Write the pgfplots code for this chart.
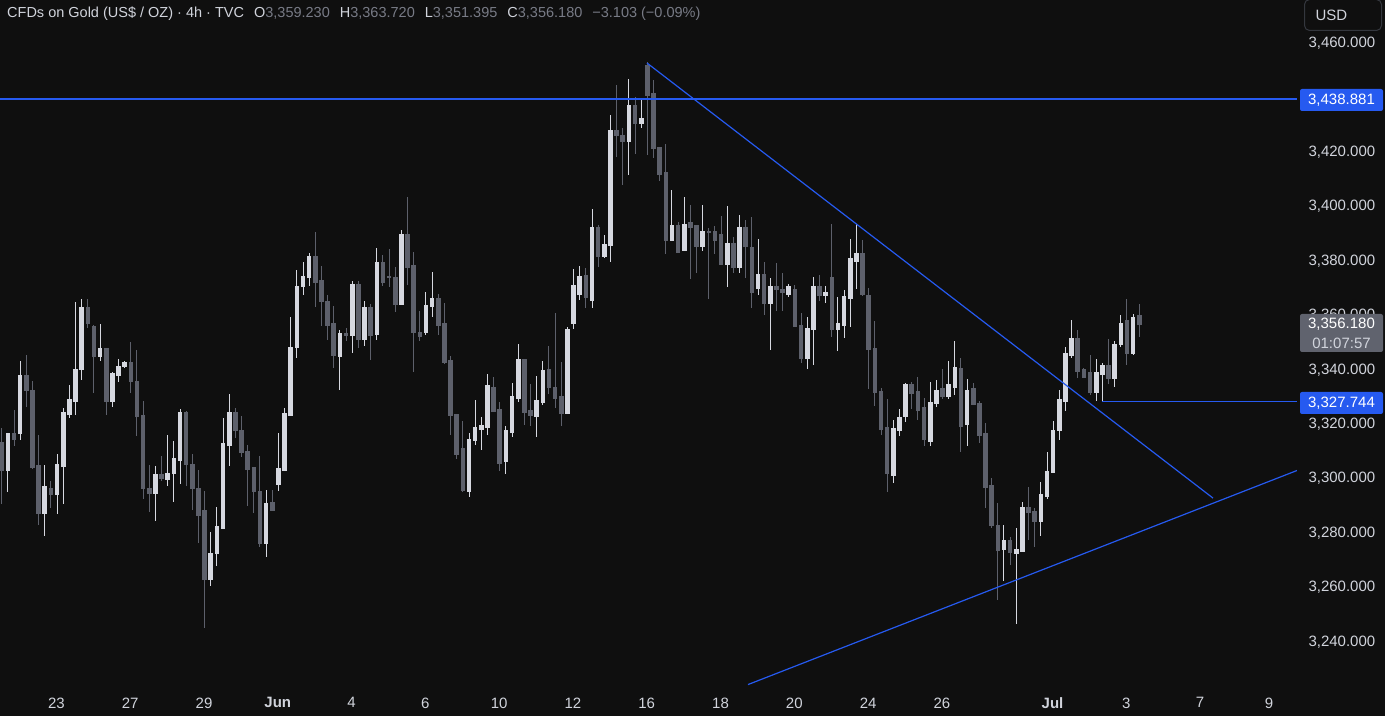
\documentclass[border=0pt]{standalone}
\usepackage{pgfplots}
\pgfplotsset{compat=1.18}
\usepackage{pgfplotstable}
\usepackage{fontspec}
\setmainfont{Liberation Sans}
\definecolor{bg}{RGB}{15,15,15}
\definecolor{upc}{RGB}{214,216,224}
\definecolor{dnc}{RGB}{93,96,107}
\definecolor{tlblue}{RGB}{38,90,240}
\definecolor{txt}{RGB}{209,212,220}
\definecolor{valc}{RGB}{120,123,134}
\definecolor{boxgray}{RGB}{96,99,110}
\definecolor{usdline}{RGB}{52,55,62}

\pgfplotstableread{
n o h l c
1 3302.6 3316.2 3294.7 3315.9
3 3315.9 3342.7 3313.7 3337.5
7 3286.5 3304.5 3278.4 3296.4
9 3293.8 3308.5 3286.5 3304.5
10 3304.1 3325.4 3290.1 3323.6
11 3323.2 3333.9 3321.7 3328.4
12 3328.0 3364.4 3322.8 3339.7
13 3339.4 3365.5 3335.7 3362.2
16 3344.2 3356.3 3342.7 3347.1
18 3328.0 3338.6 3325.8 3337.9
19 3337.5 3343.4 3334.9 3340.8
20 3340.5 3342.7 3340.1 3342.0
25 3294.2 3304.1 3283.9 3300.8
27 3299.3 3315.5 3296.8 3301.5
28 3301.2 3313.3 3290.9 3306.7
29 3306.3 3325.0 3297.5 3323.6
34 3262.6 3279.9 3260.0 3272.1
35 3271.8 3289.0 3267.4 3281.7
36 3281.3 3321.7 3281.3 3312.2
37 3311.8 3330.6 3304.1 3323.9
43 3275.8 3295.3 3270.7 3290.5
45 3297.5 3316.2 3294.9 3303.0
46 3302.6 3325.4 3302.6 3323.2
47 3322.8 3358.9 3322.8 3347.8
48 3347.5 3376.1 3343.8 3370.2
49 3369.9 3379.1 3366.9 3373.9
50 3373.5 3382.4 3370.2 3380.9
55 3344.5 3354.1 3332.0 3352.6
57 3352.0 3372.1 3345.6 3370.6
59 3350.5 3364.7 3348.3 3362.5
61 3352.4 3384.2 3350.5 3378.7
65 3363.6 3390.8 3363.2 3389.3
69 3353.1 3368.0 3352.4 3363.2
70 3362.9 3375.4 3358.8 3365.8
76 3294.9 3316.2 3292.7 3314.0
77 3313.6 3328.3 3311.8 3318.1
78 3317.7 3322.1 3310.0 3318.8
79 3318.4 3337.9 3315.5 3333.5
82 3305.6 3318.8 3301.2 3317.0
83 3316.6 3334.6 3314.8 3329.5
84 3329.1 3348.9 3327.6 3343.1
87 3322.5 3337.2 3314.8 3328.0
88 3327.6 3342.7 3326.5 3339.0
92 3323.6 3355.2 3323.2 3354.4
93 3356.6 3376.5 3354.4 3370.6
94 3367.0 3377.6 3365.0 3373.9
96 3365.0 3398.5 3362.0 3391.6
98 3381.0 3389.0 3380.6 3385.3
99 3385.3 3433.1 3379.0 3427.2
102 3423.5 3446.3 3411.0 3436.4
104 3429.8 3439.3 3428.3 3431.6
109 3387.1 3405.5 3386.8 3392.3
111 3383.4 3402.9 3383.4 3393.0
114 3384.9 3400.0 3383.1 3390.1
118 3378.3 3399.6 3369.9 3386.0
120 3377.2 3396.3 3375.0 3391.9
123 3369.5 3387.5 3366.9 3374.3
125 3364.0 3373.2 3346.7 3369.9
128 3367.3 3371.0 3366.2 3370.2
131 3343.8 3358.8 3339.7 3354.8
132 3354.4 3373.5 3341.2 3369.9
134 3366.6 3370.2 3364.0 3367.7
136 3354.4 3366.2 3346.4 3356.3
137 3355.9 3368.8 3351.1 3366.2
138 3365.8 3387.5 3355.2 3380.2
139 3379.4 3393.0 3369.1 3382.0
145 3300.8 3321.0 3297.9 3317.7
146 3317.3 3325.0 3315.1 3322.1
147 3322.5 3334.6 3320.3 3334.2
151 3313.3 3334.9 3311.5 3327.6
152 3327.2 3335.7 3325.8 3331.7
154 3329.5 3342.7 3328.7 3333.9
155 3333.1 3350.0 3330.2 3340.1
157 3319.2 3336.1 3311.5 3332.0
163 3273.6 3282.4 3262.0 3276.9
165 3271.8 3281.3 3246.1 3273.6
166 3272.9 3290.9 3272.9 3288.7
169 3283.9 3298.2 3278.4 3293.8
170 3293.1 3309.3 3292.0 3301.9
171 3301.9 3320.6 3301.5 3317.3
172 3317.0 3332.0 3313.7 3328.4
173 3328.0 3347.8 3324.3 3345.3
174 3344.9 3357.7 3343.8 3351.1
178 3331.3 3343.4 3328.0 3338.3
179 3337.9 3341.9 3327.744 3341.2
181 3336.4 3350.0 3333.1 3348.9
182 3348.9 3359.6 3347.8 3356.6
184 3345.3 3360.0 3344.9 3358.8
}\updata

\pgfplotstableread{
n o h l c
0 3312.8 3317.9 3290.1 3302.6
2 3315.9 3324.7 3311.6 3314.0
4 3337.5 3344.9 3325.9 3331.7
5 3331.7 3335.3 3303.0 3303.6
6 3304.1 3315.5 3282.4 3286.5
8 3296.0 3298.6 3288.6 3293.8
14 3362.2 3365.5 3354.8 3356.6
15 3355.5 3355.9 3330.9 3344.2
17 3347.1 3347.1 3322.8 3328.0
21 3342.0 3349.7 3330.9 3335.0
22 3335.3 3346.7 3315.1 3322.5
23 3322.8 3328.0 3292.0 3295.7
24 3295.7 3304.5 3287.2 3294.2
26 3300.8 3307.8 3298.6 3299.7
30 3323.6 3324.3 3296.8 3304.5
31 3304.8 3308.5 3287.9 3295.7
32 3296.0 3302.6 3275.8 3286.1
33 3287.6 3294.9 3244.6 3262.6
38 3323.9 3325.4 3314.4 3317.0
39 3317.3 3322.5 3307.4 3308.9
40 3309.6 3311.8 3289.4 3303.0
41 3303.4 3303.7 3286.8 3294.6
42 3294.9 3307.8 3274.3 3275.8
44 3290.5 3295.3 3287.9 3287.9
51 3380.9 3390.0 3362.5 3371.7
52 3372.1 3377.6 3355.5 3364.4
53 3364.7 3366.9 3350.4 3355.9
54 3356.6 3362.9 3340.1 3344.9
56 3352.6 3354.8 3350.0 3352.2
58 3370.6 3372.1 3347.6 3350.5
60 3362.5 3363.6 3343.0 3352.0
62 3378.7 3381.6 3370.2 3371.7
63 3373.6 3383.8 3369.9 3373.2
64 3373.5 3377.2 3360.7 3363.6
66 3389.3 3402.9 3370.6 3377.2
67 3377.6 3382.7 3338.6 3353.3
68 3353.3 3361.0 3350.1 3351.6
71 3365.5 3367.3 3352.2 3355.9
72 3356.3 3364.0 3341.6 3342.3
73 3342.7 3344.5 3315.5 3322.8
74 3323.2 3323.2 3306.7 3308.5
75 3310.7 3320.6 3294.5 3295.3
80 3333.1 3336.8 3324.3 3324.3
81 3324.7 3327.6 3302.3 3305.2
85 3343.1 3343.4 3319.2 3323.9
86 3324.3 3334.2 3318.8 3322.5
89 3339.4 3348.2 3330.6 3332.8
90 3333.1 3360.3 3325.4 3329.1
91 3329.5 3342.3 3318.8 3323.6
95 3374.0 3377.0 3362.0 3366.0
97 3391.6 3392.6 3377.2 3381.0
100 3427.2 3444.1 3417.6 3425.4
101 3425.7 3428.3 3407.3 3423.5
103 3436.4 3439.7 3418.7 3429.8
105 3451.1 3452.5 3418.4 3440.4
106 3441.1 3445.9 3417.3 3420.9
107 3421.3 3421.3 3408.8 3411.4
108 3411.8 3422.4 3382.0 3387.1
110 3392.3 3393.8 3382.3 3382.7
112 3393.4 3400.0 3373.0 3391.9
113 3392.3 3392.3 3375.0 3384.9
115 3390.3 3391.4 3365.5 3389.8
116 3390.1 3392.3 3382.0 3386.8
117 3389.0 3396.0 3378.0 3378.0
119 3386.0 3388.2 3375.0 3377.2
121 3391.9 3394.5 3373.2 3384.6
122 3384.2 3395.6 3362.2 3368.0
124 3374.6 3379.0 3359.6 3364.0
126 3369.9 3378.7 3361.1 3368.8
127 3369.1 3375.0 3361.1 3367.7
129 3369.1 3370.6 3355.5 3355.5
130 3355.9 3360.3 3341.9 3343.8
133 3369.9 3374.3 3364.7 3366.6
135 3373.2 3393.0 3351.5 3354.4
140 3382.0 3387.1 3366.6 3367.3
141 3366.9 3369.5 3332.4 3347.1
142 3347.1 3357.4 3326.2 3331.3
143 3331.3 3332.8 3315.5 3317.7
144 3318.1 3328.7 3294.6 3301.2
148 3334.2 3335.0 3325.0 3330.9
149 3331.3 3336.8 3321.0 3324.7
150 3325.5 3329.0 3311.5 3313.7
153 3332.4 3339.7 3328.7 3329.5
156 3340.1 3343.8 3309.2 3318.8
158 3332.4 3334.6 3326.9 3326.9
159 3327.2 3328.0 3312.6 3315.5
160 3315.9 3319.9 3288.7 3296.4
161 3296.8 3299.7 3281.3 3282.1
162 3282.1 3290.5 3254.9 3273.2
164 3276.9 3278.0 3267.7 3272.5
167 3288.7 3296.4 3276.9 3287.2
168 3287.2 3288.7 3274.5 3283.9
175 3351.1 3354.1 3336.4 3339.0
176 3339.4 3340.1 3336.4 3336.8
177 3338.6 3344.9 3330.2 3331.3
180 3341.2 3350.8 3334.2 3336.4
183 3357.4 3365.5 3341.2 3345.3
185 3359.23 3363.72 3351.395 3356.18
}\dndata

\begin{document}
\begin{tikzpicture}[x=1pt,y=1pt]
\fill[bg] (0,0) rectangle (1385,716);
\begin{axis}[
  at={(0pt,31pt)}, anchor=south west,
  width=1297pt, height=685pt, scale only axis,
  xmin=-0.28, xmax=210.65, ymin=3223.64, ymax=3475.32,
  axis line style={draw=none}, major tick length=0pt,
  xtick={8.9,20.9,32.9,44.9,56.9,68.9,80.9,92.9,104.9,116.9,128.9,140.9,152.9,170.9,182.9,194.9,206.1},
  xticklabels={23,27,29,\textbf{Jun},4,6,10,12,16,18,20,24,26,\textbf{Jul},3,7,9},
  ytick={3240,3260,3280,3300,3320,3340,3360,3380,3400,3420,3460},
  yticklabels={{3,240.000},{3,260.000},{3,280.000},{3,300.000},{3,320.000},{3,340.000},{3,360.000},{3,380.000},{3,400.000},{3,420.000},{3,460.000}},
  yticklabel pos=right,
  tick label style={font=\fontsize{15}{18}\selectfont, text=txt},
  yticklabel style={anchor=west, xshift=8pt, yshift=-1.5pt},
  xticklabel style={yshift=-9pt},
]
% wicks
\addplot[draw=none, mark=none, error bars/.cd, y dir=both, y explicit, error mark=none,
  error bar style={draw=dnc, line width=1pt}]
  table[x=n, y expr={(\thisrow{h}+\thisrow{l})/2}, y error expr={(\thisrow{h}-\thisrow{l})/2}] {\dndata};
\addplot[draw=none, mark=none, error bars/.cd, y dir=both, y explicit, error mark=none,
  error bar style={draw=upc, line width=1pt}]
  table[x=n, y expr={(\thisrow{h}+\thisrow{l})/2}, y error expr={(\thisrow{h}-\thisrow{l})/2}] {\updata};
% bodies
\addplot[draw=none, mark=none, error bars/.cd, y dir=both, y explicit, error mark=none,
  error bar style={draw=dnc, line width=4.6pt}]
  table[x=n, y expr={(\thisrow{o}+\thisrow{c})/2}, y error expr={abs(\thisrow{o}-\thisrow{c})/2+0.2}] {\dndata};
\addplot[draw=none, mark=none, error bars/.cd, y dir=both, y explicit, error mark=none,
  error bar style={draw=upc, line width=4.6pt}]
  table[x=n, y expr={(\thisrow{o}+\thisrow{c})/2}, y error expr={abs(\thisrow{o}-\thisrow{c})/2+0.2}] {\updata};
% drawings
\addplot[tlblue, line width=1.5pt] coordinates {(-0.28,3438.881) (210.65,3438.881)};
\addplot[tlblue, line width=1.2pt] coordinates {(104.94,3452.17) (197.0,3292.3)};
\addplot[tlblue, line width=1.2pt] coordinates {(121.37,3223.8) (210.65,3302.45)};
\addplot[tlblue, line width=1.3pt] coordinates {(179,3327.744) (210.65,3327.744)};
\end{axis}
% price scale boxes
\node[fill=tlblue, rounded corners=2pt, minimum width=83pt, minimum height=22pt, inner sep=0pt,
  text=white, font=\fontsize{15}{18}\selectfont] at (1341.5,616) {3,438.881};
\node[fill=tlblue, rounded corners=2pt, minimum width=83pt, minimum height=22pt, inner sep=0pt,
  text=white, font=\fontsize{15}{18}\selectfont] at (1341.5,313) {3,327.744};
\fill[boxgray, rounded corners=2pt] (1300,364) rectangle (1383,402);
\node[text=white, font=\fontsize{15}{18}\selectfont] at (1341.5,392) {3,356.180};
\node[text=txt, font=\fontsize{15}{18}\selectfont] at (1341.5,373) {01:07:57};
% USD box
\draw[usdline, line width=1pt, rounded corners=5pt] (1304.5,685.5) rectangle (1381.5,716.5);
\node[anchor=west, text=txt, font=\fontsize{15}{18}\selectfont] at (1312,701) {USD};
% header
\node[anchor=west, text=txt, font=\fontsize{14.5}{17}\selectfont, inner sep=0pt] at (7,702)
  {CFDs on Gold (US\$ / OZ) · 4h · TVC\hspace{10pt}O\textcolor{valc}{3,359.230}\hspace{10pt}H\textcolor{valc}{3,363.720}\hspace{10pt}L\textcolor{valc}{3,351.395}\hspace{10pt}C\textcolor{valc}{3,356.180}\hspace{10pt}\textcolor{valc}{−3.103 (−0.09\%)}};
\pgfresetboundingbox
\useasboundingbox (0,0) rectangle (1385,716);
\end{tikzpicture}
\end{document}
